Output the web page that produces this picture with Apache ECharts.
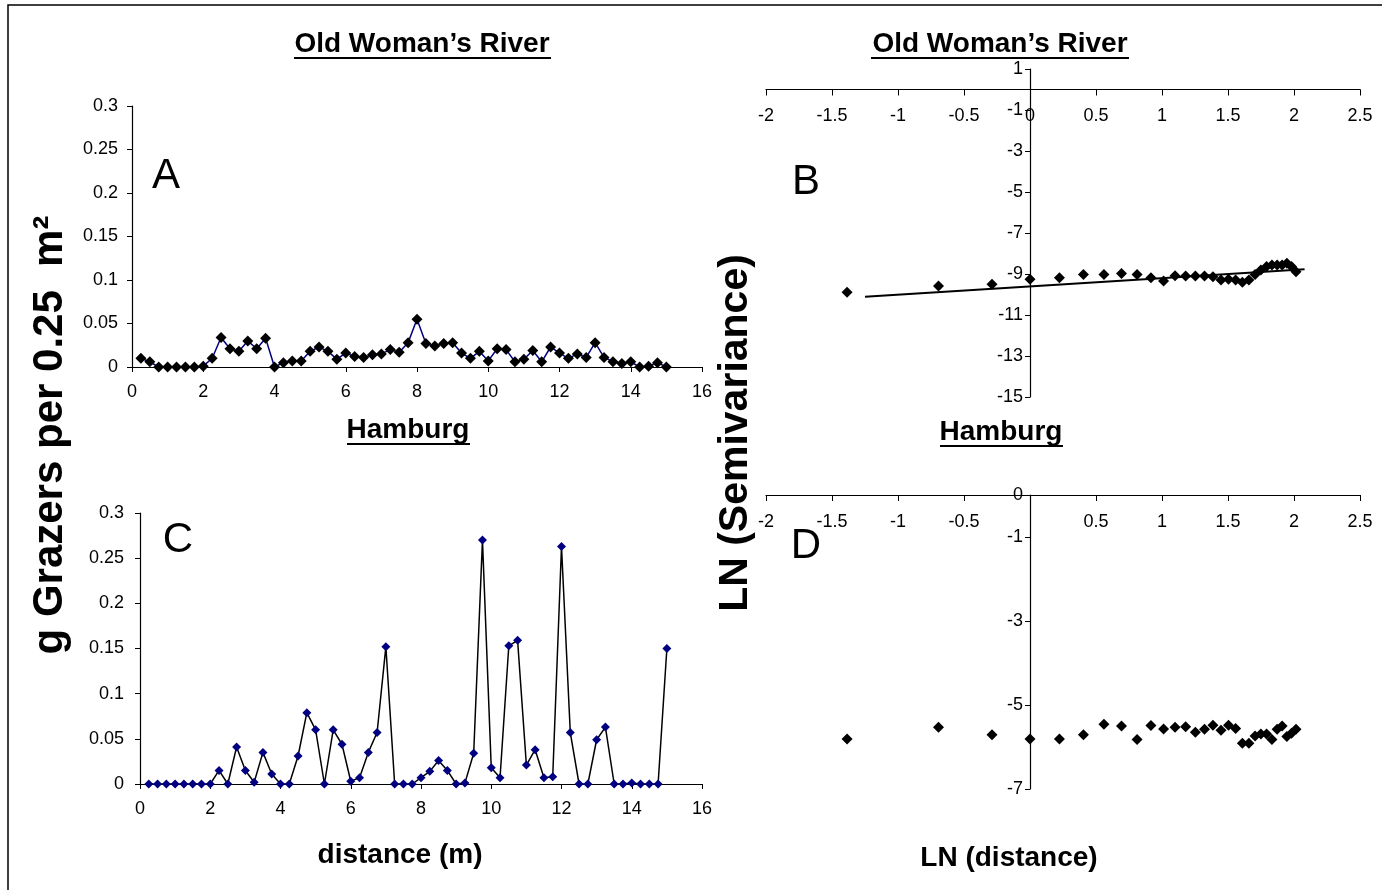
<!DOCTYPE html>
<html>
<head>
<meta charset="utf-8">
<title>Grazers semivariance</title>
<script src="https://cdn.jsdelivr.net/npm/echarts@6/dist/echarts.min.js"></script>
<style>html,body{margin:0;padding:0;background:#fff;}</style>
</head>
<body>
<div id="chart" style="width:1382px;height:890px;"></div>
<script type="text/javascript">
// distance along transect (m)
var distance = [0.25,0.5,0.75,1,1.25,1.5,1.75,2,2.25,2.5,2.75,3,3.25,3.5,3.75,4,4.25,4.5,4.75,5,
    5.25,5.5,5.75,6,6.25,6.5,6.75,7,7.25,7.5,7.75,8,8.25,8.5,8.75,9,9.25,9.5,9.75,10,
    10.25,10.5,10.75,11,11.25,11.5,11.75,12,12.25,12.5,12.75,13,13.25,13.5,13.75,14,14.25,14.5,14.75,15];
// g grazers per 0.25 m2
var gOldWoman = [0.010,0.006,0,0,0,0,0,0.001,0.010,0.034,0.021,0.018,0.030,0.021,0.033,0,0.005,0.007,0.007,0.018,
    0.023,0.018,0.009,0.016,0.012,0.011,0.014,0.015,0.020,0.017,0.028,0.055,0.027,0.024,0.027,0.028,0.016,0.010,0.018,0.007,
    0.021,0.020,0.006,0.009,0.019,0.006,0.023,0.016,0.010,0.015,0.011,0.028,0.011,0.006,0.004,0.006,0,0.001,0.005,0];
var gHamburg = [0,0,0,0,0,0,0,0,0.015,0,0.041,0.015,0.002,0.035,0.011,0,0,0.031,0.079,0.060,
    0,0.060,0.044,0.003,0.007,0.035,0.057,0.152,0,0,0,0.007,0.014,0.026,0.015,0,0.001,0.034,0.270,0.018,
    0.007,0.153,0.159,0.021,0.038,0.007,0.008,0.263,0.057,0,0,0.049,0.063,0,0,0.001,0,0,0,0.150];
// semivariogram (log-log)
var lnDistance = [-1.386,-0.693,-0.288,0,0.223,0.405,0.560,0.693,0.811,0.916,
    1.012,1.099,1.179,1.253,1.322,1.386,1.447,1.504,1.558,1.609,
    1.658,1.705,1.749,1.792,1.833,1.872,1.910,1.946,1.981,2.015];
var lnSemivarOldWoman = [-9.89,-9.59,-9.50,-9.26,-9.18,-9.03,-9.02,-8.97,-9.02,-9.18,
    -9.34,-9.08,-9.10,-9.10,-9.10,-9.13,-9.29,-9.26,-9.29,-9.40,
    -9.29,-9.02,-8.80,-8.64,-8.56,-8.56,-8.56,-8.48,-8.64,-8.89];
var lnSemivarHamburg = [-5.81,-5.53,-5.71,-5.81,-5.81,-5.71,-5.46,-5.50,-5.82,-5.49,
    -5.57,-5.53,-5.52,-5.65,-5.58,-5.48,-5.60,-5.48,-5.56,-5.91,
    -5.91,-5.74,-5.69,-5.69,-5.82,-5.58,-5.50,-5.75,-5.67,-5.58];
var trendOldWoman = [[-1.25, -10.11], [2.08, -8.77]];

function pairs(xs, ys) {
    var out = [];
    for (var i = 0; i < xs.length; i++) out.push([xs[i], ys[i]]);
    return out;
}

var FONT = 'Arial, "Liberation Sans", sans-serif';
var axisCommon = {
    axisLine: { onZero: false, lineStyle: { color: '#000', width: 1.2 } },
    axisTick: { lineStyle: { color: '#000' }, length: 5 },
    splitLine: { show: false },
    axisLabel: { color: '#000', fontSize: 18, fontFamily: FONT }
};
function ax(extra) {
    return echarts.util.merge(echarts.util.clone(axisCommon), extra, true);
}

function label(txt, x, y, font, rot) {
    return {
        type: 'text', x: x, y: y, rotation: rot || 0,
        style: { text: txt, font: font, fill: '#000', textAlign: 'center', textVerticalAlign: 'middle' }
    };
}
function underline(x1, x2, y) {
    return { type: 'line', shape: { x1: x1, y1: y, x2: x2, y2: y }, style: { stroke: '#000', lineWidth: 2 } };
}

var myChart = echarts.init(document.getElementById('chart'));
var option = {
    animation: false,
    backgroundColor: '#fff',
    grid: [
        { left: 132, top: 106, width: 570, height: 261 },
        { left: 140, top: 513, width: 562, height: 271 },
        { left: 766, top: 69, width: 594, height: 328 },
        { left: 766, top: 495, width: 594, height: 294 }
    ],
    xAxis: [
        ax({ gridIndex: 0, type: 'value', min: 0, max: 16, interval: 2, axisLabel: { margin: 16 } }),
        ax({ gridIndex: 1, type: 'value', min: 0, max: 16, interval: 2, axisLabel: { margin: 16 } }),
        // log-log panels: x axis crosses at LN(semivariance) = 0
        ax({ gridIndex: 2, type: 'value', min: -2, max: 2.5, interval: 0.5, position: 'top', offset: -20.5,
            axisTick: { inside: true, length: 6 }, axisLabel: { inside: true, margin: 18 } }),
        ax({ gridIndex: 3, type: 'value', min: -2, max: 2.5, interval: 0.5, position: 'top',
            axisTick: { inside: true, length: 6 },
            axisLabel: { inside: true, margin: 18, formatter: function (v) { return v === 0 ? '' : v; } } })
    ],
    yAxis: [
        ax({ gridIndex: 0, type: 'value', min: 0, max: 0.3, interval: 0.05, axisLabel: { margin: 14 } }),
        ax({ gridIndex: 1, type: 'value', min: 0, max: 0.3, interval: 0.05, axisLabel: { margin: 16 } }),
        ax({ gridIndex: 2, type: 'value', min: -15, max: 1, interval: 2, offset: -264, axisLabel: { margin: 7 } }),
        ax({ gridIndex: 3, type: 'value', min: -7, max: 0, interval: 2, offset: -264, axisLabel: { margin: 7 } })
    ],
    series: [
        {
            type: 'line', xAxisIndex: 0, yAxisIndex: 0,
            data: pairs(distance, gOldWoman),
            symbol: 'diamond', symbolSize: 11,
            lineStyle: { color: '#000080', width: 1.5 },
            itemStyle: { color: '#000' }
        },
        {
            type: 'line', xAxisIndex: 1, yAxisIndex: 1,
            data: pairs(distance, gHamburg),
            symbol: 'diamond', symbolSize: 9,
            lineStyle: { color: '#000', width: 1.5 },
            itemStyle: { color: '#000080' }
        },
        {
            type: 'scatter', xAxisIndex: 2, yAxisIndex: 2,
            data: pairs(lnDistance, lnSemivarOldWoman),
            symbol: 'diamond', symbolSize: 11,
            itemStyle: { color: '#000', opacity: 1 }
        },
        {
            type: 'line', xAxisIndex: 2, yAxisIndex: 2,
            data: trendOldWoman, showSymbol: false, symbol: 'none',
            lineStyle: { color: '#000', width: 2 }
        },
        {
            type: 'scatter', xAxisIndex: 3, yAxisIndex: 3,
            data: pairs(lnDistance, lnSemivarHamburg),
            symbol: 'diamond', symbolSize: 11,
            itemStyle: { color: '#000', opacity: 1 }
        }
    ],
    graphic: [
        { type: 'rect', shape: { x: 8, y: 5, width: 1390, height: 900 }, style: { fill: null, stroke: '#000', lineWidth: 1.5 }, silent: true },
        label('Old Woman\u2019s River', 422, 44, 'bold 28px ' + FONT),
        underline(294, 551, 58),
        label('Old Woman\u2019s River', 1000, 44, 'bold 28px ' + FONT),
        underline(871, 1129, 58),
        label('Hamburg', 408, 430, 'bold 28px ' + FONT),
        underline(347, 470, 444),
        label('Hamburg', 1001, 432, 'bold 28px ' + FONT),
        underline(940, 1063, 446),
        label('A', 166, 176, '42px ' + FONT),
        label('B', 806, 182, '42px ' + FONT),
        label('C', 178, 540, '42px ' + FONT),
        label('D', 806, 546, '42px ' + FONT),
        label('distance (m)', 400, 855, 'bold 28px ' + FONT),
        label('LN (distance)', 1009, 858, 'bold 28px ' + FONT),
        label('g Grazers per 0.25  m\u00b2', 50, 435, 'bold 42px ' + FONT, Math.PI / 2),
        label('LN (Semivariance)', 736, 433, 'bold 41px ' + FONT, Math.PI / 2)
    ]
};
myChart.setOption(option);
</script>
</body>
</html>
